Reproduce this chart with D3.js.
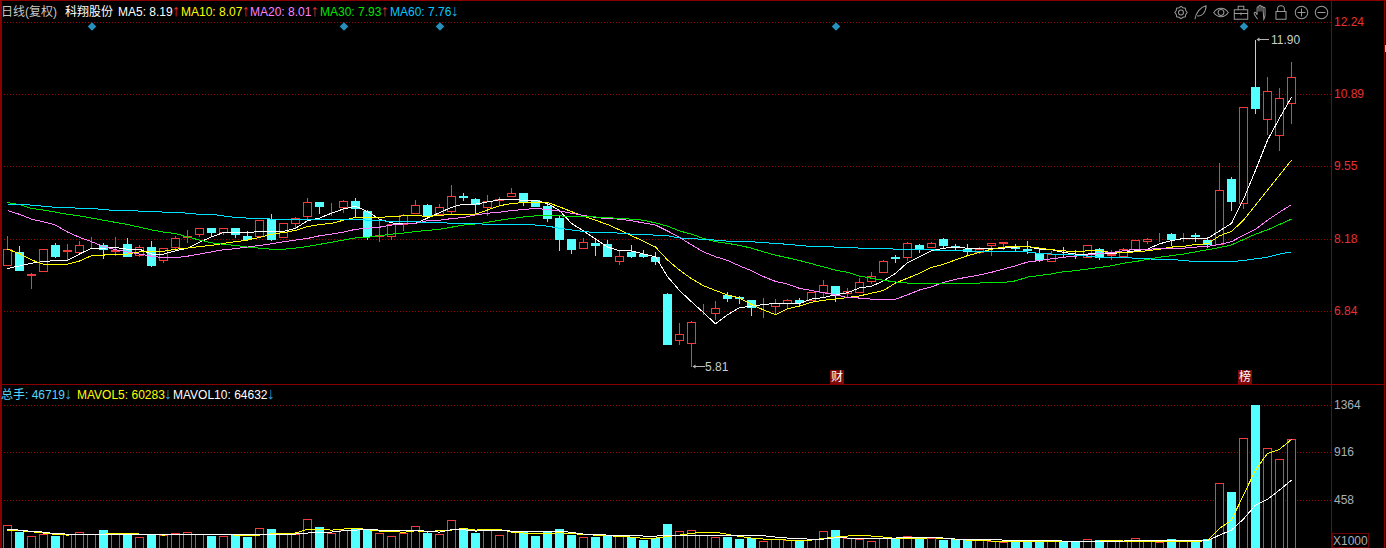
<!DOCTYPE html>
<html><head><meta charset="utf-8">
<style>html,body{margin:0;padding:0;background:#000;overflow:hidden}svg{display:block}
text{font-family:"Liberation Sans","Noto Sans CJK SC",sans-serif;font-size:12px}</style>
<script src="https://cdn.jsdelivr.net/npm/d3@7"></script></head><body><svg id="c" width="1386" height="548"></svg>
<script>
const open=[7.68,7.92,7.50,7.57,8.05,7.95,7.92,8.15,8.05,7.95,
8.07,7.87,8.03,7.78,8.02,8.21,8.27,8.38,8.30,8.38,
8.22,8.22,8.54,8.21,8.47,8.60,8.86,8.71,8.77,8.88,
8.70,8.23,8.22,8.45,8.65,8.81,8.63,8.69,8.97,8.92,
8.76,8.90,8.97,9.02,8.89,8.79,8.57,8.18,8.00,8.09,
8.07,7.76,7.92,7.89,7.83,7.14,6.29,6.24,6.79,6.79,
7.12,7.09,7.03,6.90,6.92,6.98,7.04,7.03,7.18,7.30,
7.16,7.18,7.39,7.55,7.83,7.83,8.05,8.02,8.18,8.04,
7.99,7.92,8.05,8.09,8.02,7.98,7.91,7.76,7.93,7.90,
7.83,7.99,7.88,7.85,7.99,8.13,8.20,8.27,8.20,8.25,
8.16,8.08,9.28,8.84,11.00,10.41,10.11,10.71];
const high=[8.25,8.05,7.56,7.99,8.12,8.09,8.16,8.22,8.12,8.22,
8.20,8.07,8.16,8.02,8.24,8.35,8.38,8.38,8.37,8.38,
8.33,8.53,8.65,8.47,8.60,8.96,8.86,8.86,8.91,8.96,
8.73,8.52,8.47,8.66,8.91,8.85,8.85,9.19,9.04,8.96,
9.00,8.98,9.14,9.05,8.89,8.85,8.61,8.18,8.20,8.17,
8.18,7.96,8.07,7.99,7.95,7.19,6.63,6.67,6.98,7.03,
7.21,7.12,7.06,7.09,7.08,7.08,7.09,7.19,7.42,7.32,
7.28,7.47,7.57,7.79,7.90,8.14,8.10,8.14,8.21,8.10,
8.10,8.04,8.09,8.12,8.10,8.16,7.98,7.96,8.04,7.99,
8.05,8.03,7.98,8.03,8.16,8.20,8.31,8.30,8.31,8.30,
8.22,9.61,9.35,10.63,11.90,11.20,11.01,11.49];
const low=[7.68,7.59,7.25,7.57,7.83,7.80,7.92,8.03,7.81,7.87,
7.85,7.85,7.66,7.74,7.98,8.11,8.23,8.22,8.26,8.20,
8.15,8.22,8.16,8.21,8.40,8.52,8.65,8.61,8.68,8.60,
8.17,8.13,8.17,8.33,8.65,8.60,8.63,8.64,8.89,8.64,
8.61,8.81,8.97,8.81,8.78,8.50,7.96,7.91,8.00,7.88,
7.85,7.71,7.84,7.83,7.71,6.22,6.22,5.81,6.77,6.68,
7.01,6.98,6.75,6.72,6.80,6.91,6.95,7.03,7.09,7.01,
7.09,7.18,7.36,7.55,7.75,7.78,7.92,8.02,8.03,7.96,
7.90,7.91,7.88,7.98,7.94,7.91,7.76,7.76,7.86,7.82,
7.83,7.79,7.79,7.85,7.99,8.10,8.13,8.05,8.13,8.13,
8.03,8.08,8.71,8.74,10.51,10.12,9.82,10.33];
const close=[7.99,7.60,7.52,7.99,7.86,7.96,8.06,8.16,7.98,7.96,
7.85,8.03,7.68,8.01,8.19,8.22,8.38,8.31,8.37,8.26,
8.18,8.53,8.18,8.47,8.57,8.86,8.78,8.72,8.88,8.74,
8.22,8.24,8.45,8.61,8.81,8.60,8.77,8.98,8.96,8.83,
8.87,8.91,9.03,8.86,8.79,8.57,8.18,7.99,8.12,8.05,
7.85,7.86,7.86,7.86,7.77,6.22,6.41,6.62,6.80,6.89,
7.07,7.07,6.90,6.91,6.98,7.04,7.00,7.19,7.32,7.14,
7.21,7.37,7.49,7.76,7.82,8.10,7.99,8.10,8.05,8.03,
7.94,7.99,8.09,8.12,8.01,7.96,7.79,7.90,7.92,7.89,
8.05,7.83,7.89,7.98,8.16,8.17,8.21,8.18,8.21,8.22,
8.08,9.09,8.87,10.63,10.62,10.93,10.80,11.19];
const volume=[208,141,109,128,102,128,147,128,160,128,
128,99,128,115,138,147,128,102,109,118,
93,186,170,128,128,272,189,138,160,170,
170,138,109,138,205,131,128,262,179,131,
170,118,150,154,102,154,170,112,99,93,
106,106,96,64,86,218,157,166,115,99,
93,74,83,61,77,64,67,74,157,160,
90,80,61,86,86,109,80,83,64,80,
67,64,58,51,64,61,70,58,58,58,
80,70,58,58,90,67,51,80,61,61,
74,614,531,1046,1364,950,845,1037];
const ma5=[7.63,7.68,7.73,7.76,7.78,7.78,7.90,8.01,8.01,8.02,
7.99,7.99,7.90,7.90,7.96,8.01,8.12,8.22,8.30,8.30,
8.30,8.32,8.32,8.32,8.38,8.52,8.57,8.66,8.74,8.79,
8.69,8.55,8.48,8.46,8.47,8.57,8.67,8.77,8.83,8.83,
8.87,8.91,8.92,8.90,8.90,8.84,8.71,8.47,8.33,8.18,
8.03,7.96,7.96,7.90,7.85,7.48,7.22,7.01,6.81,6.60,
6.77,6.90,6.93,6.96,6.98,6.98,6.98,7.06,7.09,7.14,
7.18,7.27,7.30,7.40,7.54,7.74,7.85,7.96,8.01,8.02,
8.01,8.01,8.01,8.01,8.03,8.04,7.99,7.98,7.93,7.90,
7.90,7.91,7.91,7.93,7.96,7.99,8.09,8.15,8.19,8.19,
8.19,8.33,8.47,8.92,9.46,10.02,10.43,10.82];
const ma10=[7.99,7.91,7.79,7.71,7.71,7.71,7.77,7.87,7.88,7.90,
7.90,7.94,7.95,7.95,7.99,8.01,8.04,8.06,8.10,8.13,
8.16,8.21,8.27,8.30,8.34,8.41,8.45,8.47,8.53,8.58,
8.58,8.58,8.60,8.61,8.62,8.60,8.62,8.64,8.64,8.64,
8.72,8.80,8.84,8.86,8.86,8.86,8.78,8.69,8.61,8.53,
8.45,8.35,8.24,8.14,8.03,7.79,7.60,7.44,7.31,7.22,
7.14,7.08,6.96,6.86,6.77,6.88,6.93,7.00,7.04,7.06,
7.09,7.12,7.17,7.22,7.36,7.45,7.54,7.65,7.71,7.79,
7.87,7.93,7.99,8.03,8.04,8.04,8.01,7.98,7.96,7.94,
7.96,7.96,7.93,7.93,7.94,7.96,7.99,8.03,8.04,8.08,
8.09,8.24,8.32,8.53,8.81,9.09,9.37,9.65];
const ma20=[8.71,8.64,8.55,8.50,8.44,8.31,8.21,8.13,8.04,7.98,
7.94,7.90,7.86,7.83,7.83,7.86,7.90,7.94,7.98,8.00,
8.03,8.06,8.09,8.13,8.16,8.19,8.24,8.27,8.31,8.36,
8.38,8.40,8.44,8.46,8.47,8.52,8.53,8.56,8.58,8.63,
8.66,8.68,8.71,8.73,8.75,8.73,8.70,8.66,8.62,8.58,
8.56,8.55,8.52,8.48,8.44,8.33,8.21,8.07,7.94,7.85,
7.78,7.68,7.59,7.48,7.39,7.34,7.26,7.22,7.18,7.14,
7.09,7.08,7.06,7.06,7.06,7.14,7.23,7.29,7.37,7.43,
7.47,7.51,7.56,7.62,7.68,7.75,7.78,7.81,7.84,7.86,
7.88,7.91,7.93,7.96,7.99,7.99,8.00,8.01,8.01,8.03,
8.04,8.08,8.13,8.25,8.36,8.53,8.68,8.82];
const ma30=[8.86,8.82,8.75,8.72,8.68,8.64,8.61,8.57,8.53,8.49,
8.45,8.40,8.35,8.31,8.28,8.22,8.16,8.11,8.08,8.06,
8.03,8.01,7.99,7.99,8.01,8.04,8.08,8.12,8.16,8.20,
8.21,8.24,8.27,8.29,8.32,8.34,8.36,8.40,8.44,8.46,
8.49,8.53,8.56,8.59,8.61,8.61,8.61,8.60,8.60,8.59,
8.58,8.56,8.55,8.53,8.48,8.42,8.33,8.27,8.19,8.13,
8.10,8.06,8.01,7.94,7.88,7.83,7.78,7.72,7.66,7.60,
7.56,7.49,7.45,7.41,7.38,7.36,7.36,7.36,7.36,7.36,
7.36,7.36,7.37,7.37,7.40,7.47,7.50,7.53,7.57,7.59,
7.62,7.65,7.68,7.73,7.76,7.80,7.84,7.87,7.90,7.94,
7.98,8.02,8.07,8.17,8.27,8.35,8.45,8.55];
const ma60=[8.83,8.83,8.81,8.79,8.77,8.77,8.75,8.75,8.73,8.71,
8.71,8.70,8.70,8.68,8.68,8.66,8.64,8.64,8.61,8.58,
8.57,8.57,8.55,8.55,8.55,8.55,8.55,8.55,8.55,8.55,
8.53,8.52,8.51,8.50,8.50,8.49,8.49,8.47,8.47,8.47,
8.45,8.45,8.45,8.45,8.44,8.42,8.38,8.35,8.32,8.30,
8.30,8.29,8.27,8.27,8.25,8.24,8.20,8.19,8.17,8.16,
8.14,8.13,8.13,8.11,8.10,8.08,8.06,8.04,8.04,8.03,
8.03,8.01,8.01,8.01,7.99,7.99,7.99,7.98,7.96,7.96,
7.96,7.95,7.95,7.95,7.95,7.94,7.91,7.90,7.90,7.88,
7.86,7.84,7.84,7.84,7.82,7.81,7.80,7.80,7.78,7.76,
7.76,7.76,7.76,7.78,7.81,7.84,7.90,7.94];
const mavol5=[163,160,150,138,125,118,128,128,128,134,
138,128,128,118,128,128,128,128,125,118,
112,118,131,138,138,173,176,166,176,186,
170,157,157,144,160,147,163,166,182,166,
173,173,147,138,138,131,141,134,122,118,
112,106,99,86,90,106,118,134,147,147,
125,106,90,80,80,70,67,70,86,99,
109,118,109,99,86,86,86,93,86,80,
70,70,61,61,58,58,61,61,61,61,
61,61,70,61,61,61,61,61,61,58,
64,182,262,502,742,902,941,1037];
const mavol10=[176,166,154,147,131,128,128,128,128,128,
128,128,128,128,128,128,128,128,128,128,
125,128,128,128,128,138,147,147,160,166,
173,166,163,163,166,154,147,170,170,157,
160,160,157,154,150,157,157,144,128,125,
118,118,118,109,109,112,115,118,118,118,
118,118,118,112,99,90,86,77,80,93,
90,90,90,90,90,99,99,99,90,80,
77,77,77,70,70,70,64,64,61,61,
61,61,61,61,67,67,67,67,70,70,
64,118,166,272,406,461,550,646];
const priceTicks=["12.24","10.89","9.55","8.18","6.84"];
const volTicks=[1364,916,458];
const signalIdx=[7,28,36,69,103];
const newsMarks=[{i:69,t:"财"},{i:103,t:"榜"}];
const maLegend=[["MA5: 8.19","↑","#ffffff",118],["MA10: 8.07","↑","#ffff00",181],["MA20: 8.01","↑","#ff80ff",250],["MA30: 7.93","↑","#00e600",320],["MA60: 7.76","↓","#00c8ff",390]];
const volLegend=[["总手: 46719","↓","#54d8ff",1],["MAVOL5: 60283","↓","#ffff00",77],["MAVOL10: 64632","↓","#ffffff",173]];

const RED="#f03c3c",CY="#54ffff",BORDER="#8a0000",GRID="#a00000";
const svg=d3.select("#c");
svg.append("rect").attr("width",1386).attr("height",548).attr("fill","#000");
const xS=d3.scaleLinear().domain([0,107]).range([7.5,1291.5]);
const yP=d3.scaleLinear().domain([8.18,11.90]).range([239,39.3]);
const yV=d3.scaleLinear().domain([0,1364]).range([547.4,405.3]);
const yTick=d3.scalePoint().domain(priceTicks).range([22.2,311.5]);
const snap=v=>Math.floor(v)+.5;

// axes + grids
const axP=svg.append("g").attr("transform","translate(1331,0)").call(d3.axisRight(yTick).tickSize(-1329).tickPadding(3));
const axV=svg.append("g").attr("transform","translate(1331,0)").call(d3.axisRight(yV).tickValues(volTicks).tickFormat(d3.format("d")).tickSize(-1329).tickPadding(3));
[axP,axV].forEach(a=>{a.select(".domain").remove();a.selectAll("line").attr("stroke",GRID).attr("stroke-dasharray","1,2").attr("shape-rendering","crispEdges");a.selectAll("text").attr("font-family",null)});
axP.selectAll(".tick").attr("transform",d=>`translate(0,${snap(yTick(d))})`);
axV.selectAll(".tick").attr("transform",d=>`translate(0,${Math.round(yV(d))+.5})`);
axP.selectAll("text").attr("fill","#e63232");
axV.selectAll("text").attr("fill","#a8b0b8");

// borders
const bd=svg.append("g").attr("stroke",BORDER).attr("shape-rendering","crispEdges");
[[1.0,0,1.0,548],[0,0.5,1386,0.5],[1331.5,0,1331.5,548],[1384.5,0,1384.5,548],[0,384.5,1385,384.5]].forEach(l=>bd.append("line").attr("x1",l[0]).attr("y1",l[1]).attr("x2",l[2]).attr("y2",l[3]).attr("stroke-width",l[0]===1.0?2:1));
svg.append("rect").attr("x",1385).attr("y",45).attr("width",1).attr("height",7).attr("fill","#c8c8c8");

const idx=d3.range(108);
// candles
const cg=svg.append("g").attr("shape-rendering","crispEdges");
const candles=cg.selectAll("g").data(idx).join("g");
candles.append("line").attr("x1",i=>xS(i)).attr("x2",i=>xS(i)).attr("y1",i=>snap(yP(high[i]))).attr("y2",i=>snap(yP(low[i])))
 .attr("stroke",i=>close[i]>=open[i]?RED:CY);
candles.append("rect").attr("x",i=>xS(i)-4).attr("width",8)
 .attr("y",i=>snap(yP(Math.max(open[i],close[i]))))
 .attr("height",i=>Math.max(0,snap(yP(Math.min(open[i],close[i])))-snap(yP(Math.max(open[i],close[i])))))
 .attr("fill",i=>close[i]>=open[i]?"#000":CY).attr("stroke",i=>close[i]>=open[i]?RED:CY);

// moving averages
const ln=a=>d3.line().x((d,i)=>xS(i)).y(d=>a(d));
[[ma5,"#ffffff"],[ma10,"#ffff00"],[ma20,"#ff80ff"],[ma30,"#00e600"],[ma60,"#00e0ff"]].forEach(([s,c])=>
 svg.append("path").attr("d",ln(yP)(s)).attr("fill","none").attr("stroke",c).attr("stroke-width",1).attr("shape-rendering","crispEdges"));

// volume
const vg=svg.append("g").attr("shape-rendering","crispEdges");
vg.selectAll("rect").data(idx).join("rect").attr("x",i=>xS(i)-4).attr("width",8)
 .attr("y",i=>snap(yV(volume[i]))).attr("height",i=>548.5-snap(yV(volume[i])))
 .attr("fill",i=>close[i]>=open[i]?"#000":CY).attr("stroke",i=>close[i]>=open[i]?RED:CY);
[[mavol5,"#ffff00"],[mavol10,"#ffffff"]].forEach(([s,c])=>
 svg.append("path").attr("d",ln(yV)(s)).attr("fill","none").attr("stroke",c).attr("shape-rendering","crispEdges"));

// signal diamonds
svg.append("g").selectAll("path").data(signalIdx).join("path")
 .attr("d",d3.symbol(d3.symbolSquare,36)()).attr("fill","#2590bd")
 .attr("transform",i=>`translate(${xS(i)+.5},26.5) rotate(45)`);

// news marks
const nm=svg.append("g").selectAll("g").data(newsMarks).join("g").attr("transform",d=>`translate(${xS(d.i)},0)`);
nm.append("rect").attr("x",-5.5).attr("y",370).attr("width",14).attr("height",14).attr("fill","#800808");
nm.append("text").attr("x",1.5).attr("y",381).attr("text-anchor","middle").attr("fill","#fff").text(d=>d.t);

// high/low annotations
const note=(i,val,tx)=>{const x=xS(i),y=snap(yP(val));
 const g=svg.append("g");
 g.append("line").attr("x1",x+1).attr("x2",x+13).attr("y1",y).attr("y2",y).attr("stroke","#b4b4b4").attr("shape-rendering","crispEdges");
 g.append("path").attr("d",`M${x+1},${y}l3,-2v4z`).attr("fill","#b4b4b4");
 g.append("text").attr("x",x+tx).attr("y",y+4).attr("fill","#c8d0c8").text(val.toFixed(2));};
note(104,11.90,15.5);note(57,5.81,13.5);

// legends
const leg=(text,color,x,y)=>svg.append("text").attr("x",x).attr("y",y).attr("fill",color).text(text);
leg("日线(复权)","#c8c8c8",1,16);leg("科翔股份","#ffffff",65,16);
const arrowSpan=(e,a,c)=>e.append("tspan").attr("fill",c).attr("font-size",16).attr("dx",-1).text(a);
maLegend.forEach(([t,a,c,x])=>arrowSpan(leg(t,c,x,16),a,a==="↑"?"#e63232":"#2aa0d8"));
volLegend.forEach(([t,a,c,x])=>arrowSpan(leg(t,c,x,399),a,"#2aa0d8"));

// X1000 box
svg.append("rect").attr("x",1332.5).attr("y",533.5).attr("width",36).attr("height",14).attr("fill","none").attr("stroke","#6a0000").attr("shape-rendering","crispEdges");
svg.append("text").attr("x",1333).attr("y",545).attr("fill","#a8b0b8").text("X1000");

// toolbar icons
const ic=svg.append("g").attr("fill","none").attr("stroke","#9a9a9a").attr("stroke-width",.9);
const at=(x)=>ic.append("g").attr("transform",`translate(${x},12.5) scale(1.12)`);
let g=at(1181);g.append("circle").attr("r",2.2);g.append("path").attr("d",d3.range(8).map(k=>{const a=k*Math.PI/4;return `${k?"L":"M"}${5.5*Math.cos(a)},${5.5*Math.sin(a)}L${4.6*Math.cos(a+.39)},${4.6*Math.sin(a+.39)}`}).join("")+"Z");
g=at(1200.5);g.append("path").attr("d","M-5,6C-4,0 0,-5 5,-6C5,0 1,4 -3,3");
g=at(1221);g.append("path").attr("d","M-6.5,0C-3,-5 3,-5 6.5,0C3,5 -3,5 -6.5,0Z");g.append("circle").attr("r",2.6);
g=at(1241);g.append("path").attr("d","M-6,-2.5H6V6H-6ZM-6,1H6M-2.5,-2.5V-5.5H2.5V-2.5M0,0V2.5");
g=at(1261);g.append("path").attr("d","M-3,6C-5,3 -7,1 -6,0C-5,-1 -4,1 -3.5,2V-4C-3.5,-5.5 -1.8,-5.5 -1.8,-4V-1M-1.8,-5C-1.8,-7 0,-7 0,-5V-1M0,-4.5C0,-6 1.8,-6 1.8,-4.5V-1M1.8,-3.5C1.8,-5 3.6,-5 3.6,-3.5V2C3.6,4 3,5 2.5,6Z");
g=at(1281);g.append("path").attr("d","M-4.5,-1H4.5V6H-4.5ZM-3,-1V-3.5C-3,-7 3,-7 3,-3.5V-1");
g=at(1301.5);g.append("circle").attr("r",5.6);g.append("path").attr("d","M-3.5,0H3.5M0,-3.5V3.5");
g=at(1321.5);g.append("circle").attr("r",5.6);g.append("path").attr("d","M-3.5,0H3.5");
</script></body></html>
